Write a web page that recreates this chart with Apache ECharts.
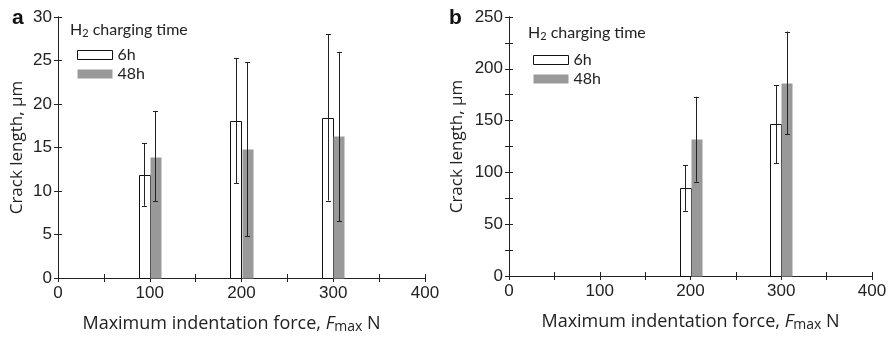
<!DOCTYPE html>
<html>
<head>
<meta charset="utf-8">
<script src="https://cdn.jsdelivr.net/npm/echarts@6/dist/echarts.min.js"></script>
<style>
  html, body { margin: 0; padding: 0; background: #fff; }
  #main { width: 890px; height: 339px; }
</style>
</head>
<body>
<div id="main"></div>
<script>
// panel a (crack length, um)
const forcesA = [100, 200, 300];
const lenA6 = [11.8, 18.1, 18.4];
const lenA48 = [13.9, 14.8, 16.3];
const lowA6 = [8.3, 10.9, 8.9];
const highA6 = [15.5, 25.3, 28.0];
const lowA48 = [8.8, 4.8, 6.5];
const highA48 = [19.2, 24.8, 26.0];

// panel b (crack length, um)
const forcesB = [200, 300];
const lenB6 = [85, 147];
const lenB48 = [132, 186];
const lowB6 = [63, 109];
const highB6 = [107, 184];
const lowB48 = [91, 137];
const highB48 = [173, 236];

const xTicks = [0, 100, 200, 300, 400];

const chart = echarts.init(document.getElementById("main"));

const BAR_HALF = 6; // half bar width, in force units
const OFFSET = 6;   // shift of each bar from the force value

function barRender(shift, filled) {
  return function (params, api) {
    const x = api.value(0) + shift;
    const p0 = api.coord([x - BAR_HALF, api.value(1)]);
    const p1 = api.coord([x + BAR_HALF, 0]);
    return {
      type: "rect",
      shape: { x: Math.round(p0[0]) + 0.5, y: Math.round(p0[1]) + 0.5,
               width: Math.round(p1[0] - p0[0]), height: Math.round(p1[1] - p0[1]) },
      style: filled
        ? { fill: "#999999", stroke: null }
        : { fill: "#ffffff", stroke: "#111", lineWidth: 1 }
    };
  };
}

function errRender(shift) {
  return function (params, api) {
    const x = api.value(0) + shift;
    const lo = api.coord([x, api.value(1)]);
    const hi = api.coord([x, api.value(2)]);
    const cx = Math.round(lo[0]) + 0.5;
    const c = 2.5;
    const st = { stroke: "#222", lineWidth: 1 };
    return {
      type: "group",
      children: [
        { type: "line", shape: { x1: cx, y1: lo[1], x2: cx, y2: hi[1] }, style: st },
        { type: "line", shape: { x1: cx - c, y1: Math.round(lo[1]) + 0.5, x2: cx + c, y2: Math.round(lo[1]) + 0.5 }, style: st },
        { type: "line", shape: { x1: cx - c, y1: Math.round(hi[1]) + 0.5, x2: cx + c, y2: Math.round(hi[1]) + 0.5 }, style: st }
      ]
    };
  };
}

function zip2(xs, ys) { return xs.map((x, i) => [x, ys[i]]); }
function zip3(xs, a, b) { return xs.map((x, i) => [x, a[i], b[i]]); }

const axisLineStyle = { show: true, lineStyle: { color: "#222", width: 1 } };
const tickStyle = { show: true, inside: true, length: 4, lineStyle: { color: "#222" } };
const labelFont = { fontFamily: "Liberation Sans", fontSize: 17, color: "#222" };
const nameFont = { fontFamily: "Open Sans", fontSize: 18, color: "#222" };

function xAxisPair(grid, namePad) {
  return [
    {
      type: "value", gridIndex: grid, position: "bottom", min: 0, max: 400, interval: 50,
      axisLine: axisLineStyle, axisTick: tickStyle, splitLine: { show: false },
      axisLabel: Object.assign({ margin: 7, formatter: v => (xTicks.indexOf(v) >= 0 ? v : "") }, labelFont),
      name: "Maximum indentation force, {i|F}{s|max} N",
      nameLocation: "middle", nameGap: 35,
      nameTextStyle: Object.assign({
        padding: namePad,
        rich: {
          i: { fontFamily: "Open Sans", fontSize: 18, fontStyle: "italic", color: "#222" },
          s: { fontFamily: "Open Sans", fontSize: 14, color: "#222", padding: [7, 0, 0, 0] }
        }
      }, nameFont)
    },
    {
      type: "value", gridIndex: grid, position: "top", min: 0, max: 400, interval: 50,
      axisLine: axisLineStyle, axisTick: tickStyle, splitLine: { show: false },
      axisLabel: { show: false }
    }
  ];
}

function yAxisPair(grid, max, interval, labelEvery, nameGap) {
  return [
    {
      type: "value", gridIndex: grid, position: "left", min: 0, max: max, interval: interval,
      axisLine: axisLineStyle, axisTick: tickStyle, splitLine: { show: false },
      axisLabel: Object.assign({ margin: 6, formatter: v => (v % labelEvery === 0 ? v : "") }, labelFont),
      name: "Crack length, μm", nameLocation: "middle", nameGap: nameGap,
      nameTextStyle: Object.assign({}, nameFont, { fontSize: 17 })
    },
    {
      type: "value", gridIndex: grid, position: "right", min: 0, max: max, interval: interval,
      axisLine: axisLineStyle, axisTick: tickStyle, splitLine: { show: false },
      axisLabel: { show: false }
    }
  ];
}

function legendFor(left, top) {
  return {
    left: left, top: top, orient: "vertical",
    itemWidth: 35, itemHeight: 9, itemGap: 3,
    textStyle: { fontFamily: "Lato", fontSize: 16, color: "#222", lineHeight: 16 },
    data: [
      { name: "6h", icon: "rect", itemStyle: { color: "#fff", borderColor: "#111", borderWidth: 1 } },
      { name: "48h", icon: "rect", itemStyle: { color: "#999", borderWidth: 0 } }
    ],
    selectedMode: false
  };
}

function titleText(left, top) {
  return {
    type: "text", left: left, top: top,
    style: {
      text: "H{s|2} charging time",
      font: "16px Lato", fill: "#222",
      rich: { s: { font: "11px Lato", fill: "#222", padding: [7, 0, 0, 0] } }
    }
  };
}

const option = {
  animation: false,
  grid: [
    { left: 58, top: 17, width: 367, height: 262 },
    { left: 509, top: 17, width: 363, height: 259 }
  ],
  xAxis: [].concat(xAxisPair(0, [0, 20, 0, 0]), xAxisPair(1, [0, 0, 0, 0])),
  yAxis: [].concat(yAxisPair(0, 30, 5, 5, 32), yAxisPair(1, 250, 25, 50, 43)),
  legend: [legendFor(72, 42), legendFor(528, 47)],
  graphic: [
    titleText(70, 22),
    titleText(528, 25),
    { type: "text", left: 12, top: 8, style: { text: "a", font: "bold 21px Liberation Sans", fill: "#111" } },
    { type: "text", left: 449, top: 8, style: { text: "b", font: "bold 21px Liberation Sans", fill: "#111" } }
  ],
  series: [
    { name: "6h", type: "custom", xAxisIndex: 0, yAxisIndex: 0, renderItem: barRender(-OFFSET, false), data: zip2(forcesA, lenA6), itemStyle: { color: "#fff" } },
    { name: "48h", type: "custom", xAxisIndex: 0, yAxisIndex: 0, renderItem: barRender(OFFSET, true), data: zip2(forcesA, lenA48), itemStyle: { color: "#999" } },
    { type: "custom", xAxisIndex: 0, yAxisIndex: 0, renderItem: errRender(-OFFSET), data: zip3(forcesA, lowA6, highA6) },
    { type: "custom", xAxisIndex: 0, yAxisIndex: 0, renderItem: errRender(OFFSET), data: zip3(forcesA, lowA48, highA48) },

    { name: "6h", type: "custom", xAxisIndex: 2, yAxisIndex: 2, renderItem: barRender(-OFFSET, false), data: zip2(forcesB, lenB6), itemStyle: { color: "#fff" } },
    { name: "48h", type: "custom", xAxisIndex: 2, yAxisIndex: 2, renderItem: barRender(OFFSET, true), data: zip2(forcesB, lenB48), itemStyle: { color: "#999" } },
    { type: "custom", xAxisIndex: 2, yAxisIndex: 2, renderItem: errRender(-OFFSET), data: zip3(forcesB, lowB6, highB6) },
    { type: "custom", xAxisIndex: 2, yAxisIndex: 2, renderItem: errRender(OFFSET), data: zip3(forcesB, lowB48, highB48) }
  ]
};

chart.setOption(option);
</script>
</body>
</html>
